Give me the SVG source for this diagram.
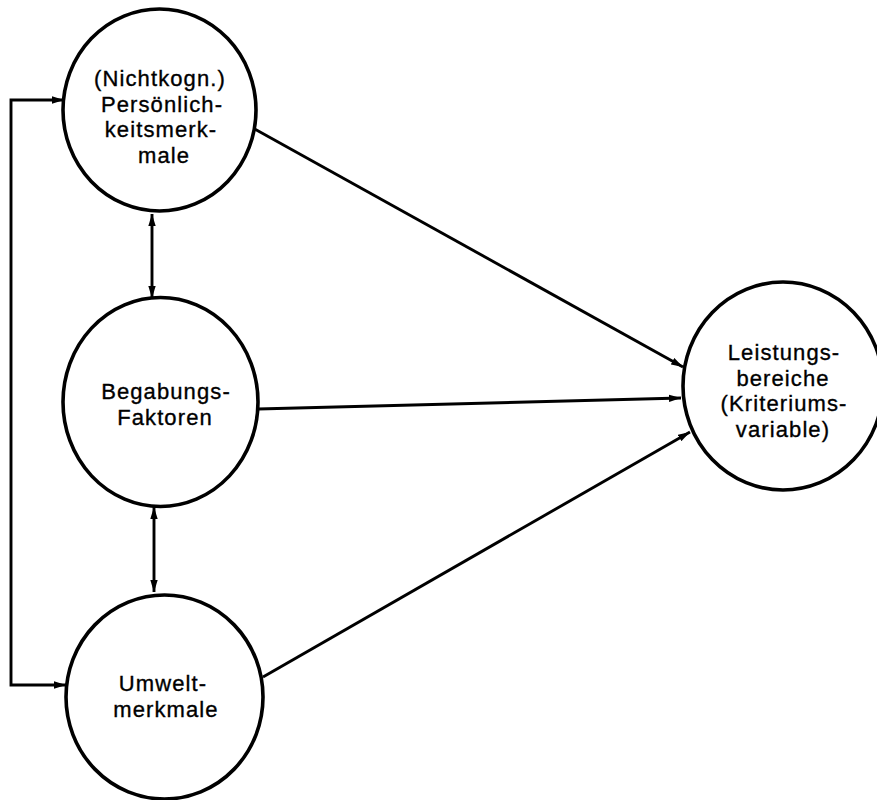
<svg xmlns="http://www.w3.org/2000/svg" width="877" height="800" viewBox="0 0 877 800">
<style>
.node{fill:#fff;stroke:#000;stroke-width:3.6}
.lbl{font-family:"Liberation Sans",Arial,sans-serif;font-size:22px;letter-spacing:1.1px;fill:#000;stroke:#000;stroke-width:0.35;text-anchor:middle}
.con{fill:none;stroke:#000;stroke-width:2.9;stroke-linejoin:miter}
</style>
<defs>
<marker id="ah" markerUnits="userSpaceOnUse" markerWidth="13" markerHeight="9" refX="12" refY="4.5" orient="auto-start-reverse">
<path d="M0,0.8 L12,4.5 L0,8.2 z" fill="#000"/>
</marker>
</defs>
<rect width="877" height="800" fill="#fff"/>
<g id="connectors">
<path class="con" d="M64,100 L11,100 L11,685 L66,685" marker-start="url(#ah)" marker-end="url(#ah)"/>
<path class="con" d="M152,214 L152,298" marker-start="url(#ah)" marker-end="url(#ah)"/>
<path class="con" d="M154,507 L154,592" marker-start="url(#ah)" marker-end="url(#ah)"/>
<path class="con" d="M253,128 L683,367" marker-end="url(#ah)"/>
<path class="con" d="M258,409 L681,398" marker-end="url(#ah)"/>
<path class="con" d="M263,677 L690,432" marker-end="url(#ah)"/>
</g>
<g id="node-persoenlichkeit">
<ellipse class="node" cx="159.5" cy="110" rx="96.5" ry="101"/>
<text class="lbl" x="160" y="86">(Nichtkogn.)</text>
<text class="lbl" x="162" y="111.5">Persönlich-</text>
<text class="lbl" x="161" y="137">keitsmerk-</text>
<text class="lbl" x="164" y="162.5">male</text>
</g>
<g id="node-begabung">
<ellipse class="node" cx="160.5" cy="402" rx="97.5" ry="104.5"/>
<text class="lbl" x="166" y="399">Begabungs-</text>
<text class="lbl" x="165" y="424.5">Faktoren</text>
</g>
<g id="node-umwelt">
<ellipse class="node" cx="164.5" cy="697" rx="98.5" ry="102"/>
<text class="lbl" x="163" y="691">Umwelt-</text>
<text class="lbl" x="166" y="716.5">merkmale</text>
</g>
<g id="node-leistung">
<ellipse class="node" cx="783" cy="386" rx="100" ry="104"/>
<text class="lbl" x="784" y="360">Leistungs-</text>
<text class="lbl" x="783" y="385.5">bereiche</text>
<text class="lbl" x="784" y="411">(Kriteriums-</text>
<text class="lbl" x="783" y="436.5">variable)</text>
</g>
</svg>
